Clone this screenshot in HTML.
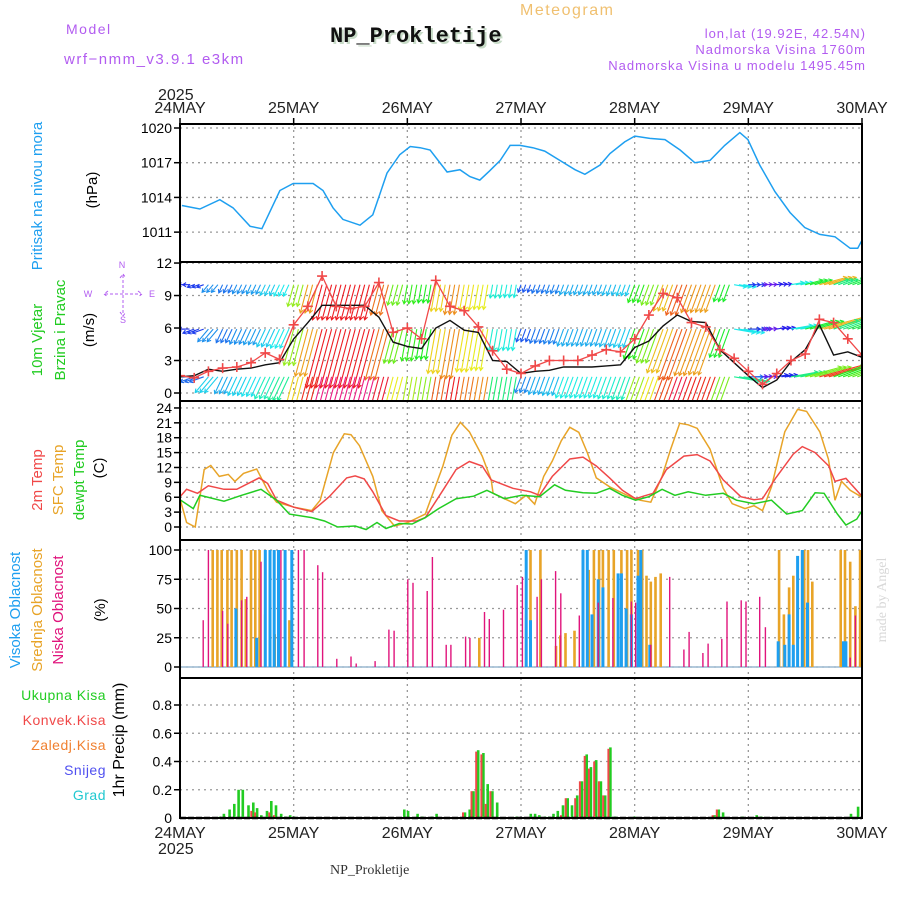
<!DOCTYPE html>
<html><head><meta charset="utf-8"><style>
html,body{margin:0;padding:0;background:#fff;}
svg{display:block;font-family:"Liberation Sans",sans-serif;}
</style></head><body>
<svg id="chart" width="900" height="900" viewBox="0 0 900 900" xmlns="http://www.w3.org/2000/svg">
<defs>
<clipPath id="cpP"><rect x="180" y="124" width="682" height="138"/></clipPath>
<clipPath id="cpW"><rect x="180" y="262" width="682" height="139"/></clipPath>
<clipPath id="cpT"><rect x="180" y="401" width="682" height="139"/></clipPath>
<clipPath id="cpC"><rect x="180" y="540" width="682" height="138"/></clipPath>
<clipPath id="cpR"><rect x="180" y="678" width="682" height="140"/></clipPath>
</defs>
<text x="66" y="34" font-size="14" fill="#b25cf0" letter-spacing="1.5">Model</text>
<text x="64" y="64" font-size="15" fill="#b25cf0" letter-spacing="1.5">wrf−nmm_v3.9.1 e3km</text>
<text x="332" y="44" font-size="22" font-weight="bold" font-family="Liberation Mono,monospace" fill="#c8dcc8">NP_Prokletije</text>
<text x="330" y="42" font-size="22" font-weight="bold" font-family="Liberation Mono,monospace" fill="#111">NP_Prokletije</text>
<text x="520" y="15" font-size="16" fill="#f0c070" letter-spacing="1.5">Meteogram</text>
<text x="866" y="38" font-size="13" fill="#b25cf0" text-anchor="end" letter-spacing="1">lon,lat (19.92E, 42.54N)</text>
<text x="866" y="54" font-size="13" fill="#b25cf0" text-anchor="end" letter-spacing="1">Nadmorska Visina 1760m</text>
<text x="866" y="70" font-size="13" fill="#b25cf0" text-anchor="end" letter-spacing="1">Nadmorska Visina u modelu 1495.45m</text>
<text x="158" y="100" font-size="16" fill="#222">2025</text>
<text x="330" y="874" font-size="14" font-family="Liberation Serif,serif" fill="#333">NP_Prokletije</text>
<text transform="translate(886,600) rotate(-90)" font-size="14" font-family="Liberation Serif,serif" fill="#d8d8d8" text-anchor="middle">made by Angel</text>
<g id="grids"></g><g id="data"></g><g id="frames"></g><g id="labels"></g>
</svg>
<script>
// ---------- data ----------
const dayLabels = ["24MAY","25MAY","26MAY","27MAY","28MAY","29MAY","30MAY"];
const pressTicks = [1020,1017,1014,1011];
const windTicks = [0,3,6,9,12];
const tempTicks = [0,3,6,9,12,15,18,21,24];
const cloudTicks = [0,25,50,75,100];
const precipTicks = [0.2,0.4,0.6,0.8];

const pressHours = [0.4,4.2,8.4,11.2,14.8,17.3,21.1,23.9,28.1,30.2,32.3,34.4,38,40.7,43.7,46.4,48.6,50.7,52.8,56.4,59.1,61.2,63.3,65.4,67.6,69.7,71.8,74.5,77,80.2,83.4,85.5,88.7,90.8,93.9,96,99.2,102.4,105.6,108.7,111.9,115,118.2,119.9,122.4,125.6,128.8,131.9,135.1,138.3,141.5,143.1,144];
const pressVals = [1013.3,1013.0,1013.8,1013.1,1011.5,1011.3,1014.6,1015.2,1015.2,1014.6,1013.1,1012.1,1011.6,1012.5,1016.1,1017.7,1018.4,1018.3,1018.1,1016.2,1016.4,1015.8,1015.5,1016.3,1017.2,1018.5,1018.5,1018.3,1018,1017.2,1016.4,1016,1016.8,1017.8,1018.8,1019.3,1019.1,1019,1018.1,1017,1017.2,1018.5,1019.6,1019,1016.8,1014.5,1012.7,1011.4,1010.8,1010.6,1009.6,1009.6,1010.3];

const windStepHours = 3;
const windSpeed = [1.5,1.6,2.2,2.0,2.2,2.3,2.6,2.8,5.0,6.5,8.1,8.1,8.1,8.1,7.0,4.7,4.3,4.1,6.0,6.7,5.8,5.6,3.0,2.9,1.8,2.0,2.1,2.4,2.4,2.4,2.5,2.6,4.2,4.8,6.2,7.2,6.6,6.5,4.0,2.8,1.6,0.5,1.2,2.9,4.0,6.3,3.5,3.8,3.3];
const windGust = [1.6,1.4,2.0,2.3,2.4,2.8,3.7,3.1,6.3,8.0,10.8,8.0,7.8,8.0,10.2,5.6,6.0,5.0,10.4,8.0,7.6,6.1,3.9,2.2,1.8,2.5,3.0,3.0,3.0,3.5,4.0,3.8,5.0,7.2,9.2,8.8,6.5,6.1,4.0,3.2,2.0,0.8,1.8,3.0,3.6,6.8,6.5,5.0,3.5];
const windFrom = [90,70,40,25,25,25,25,25,15,15,15,15,15,15,15,15,10,10,10,10,10,10,10,10,20,20,20,20,20,20,20,20,20,20,20,20,20,20,20,280,270,265,260,260,255,255,250,250,250];
const windRowLevels = [10.0,5.9,1.5];
const windRowFactor = [0.6,1.0,1.25];

const t2mHours = [0,1.4,3.7,6,9.3,12,16.7,18.5,20.4,24,27.8,31.5,35.2,37,38.9,40.7,43.5,46.3,50,51.8,55.5,58.3,61.1,63.8,65.7,70.3,74,75.9,78.6,82.3,85.1,87.9,90.7,93.4,96.2,98.1,99.9,102.7,106.4,109.2,111.9,114.7,118.4,121.2,123,125.8,129.5,131.4,134.1,137,138.3,140.6,143.8];
const t2mVals = [6.1,7.6,6.8,8.3,7.6,7.6,9.9,8.8,5.4,4,3.1,6.1,9.9,10.3,9.7,7.1,2.3,1.2,1.2,1.9,7.4,11.6,13.2,12.3,9.5,7.8,7.1,6.4,10.2,13.7,14.1,12.3,9.9,7.4,5.7,6.3,6.8,11.6,14.3,14.6,13.3,9.5,6.1,5.5,5.7,9.9,14.7,16.2,15,12.3,9.2,9.8,6.4];
const sfcHours = [0,1.4,3.2,5.1,6.5,8.3,10.2,11.6,13.4,16.2,18.5,20.4,24.1,27.8,29.6,32.4,34.7,36.1,37.9,40.7,42.6,45.3,48.1,51.8,55.5,57.4,59.2,61.1,63.8,65.7,66.1,68.5,70.8,73.1,74.9,76.8,78.6,80.5,82.3,84.2,86,87.9,90.7,94.4,97.1,99.4,101.8,103.6,105.5,107.3,109.2,111.9,114.7,116.6,119.3,121.2,123,124.9,127.7,130.4,132.3,135.1,136.9,138.3,139.7,141.5,143.8];
const sfcVals = [5.7,0.9,0,11.6,12.4,10.2,10.6,9.2,10.8,11.7,7.4,5,4,3.3,5.4,15,18.8,18.6,16.4,10.2,3.3,0.2,0.9,2.6,12.3,18.5,21.1,19.2,14.3,9.5,6.8,5.7,4.7,6.4,4.6,10.2,13.3,17.4,20.1,19.1,15,9.9,8.1,6.4,5.4,5,10.2,15.7,20.9,20.6,19.9,15.7,7.8,4.7,3.7,4.3,3.3,8.1,19.2,23.7,23.3,19.2,13.7,5.4,9.2,7.4,6.1];
const dewHours = [0,2.8,4.2,9.3,13,17.1,20.4,23.1,27.8,30.5,33.3,37,39.3,41.6,43.5,46.3,49,51.8,54.6,58.3,62,64.8,68.5,72.2,75.9,79.1,81.4,85.1,87.9,90.7,93.4,96.2,99,101.8,104.5,107.3,111,114.7,117.5,121.2,124.9,128.1,131.4,134.1,136,138.8,140.6,142.9,144];
const dewVals = [5.5,3.7,6.4,5.2,6.4,7.6,5.4,2.6,1.9,1.2,0,0.2,-0.5,0.9,-0.3,0.7,0.6,1.9,3.7,5.7,6.2,7.4,5.7,6.4,6.1,8.5,7.4,6.9,6.8,7.8,6.4,5.4,6.1,7.6,6.4,7.1,6.4,6.8,5.4,4.7,5.4,2.6,3.3,6.9,6.8,2.6,0.4,1.6,3.3];

const midHours = [6.9,7.9,8.8,10,10.9,12,13,13.9,15,15.9,16.8,18,19,20,23.1,63.2,73.1,74,76.1,79.4,80.3,81.4,83.3,85.1,86.3,87.4,88.5,89.3,90.5,91.6,93.2,94.4,95.3,96.7,97.6,98.5,99.4,100.4,101.5,126.5,127.5,128.6,129.5,131.4,131.8,132.6,133.5,139.5,140.4,141.5,142.6,143.6];
const midVals = [100,100,100,100,100,100,100,58,100,100,100,45,50,28,40,25,45,100,100,18,27,29,31,25,83,100,100,100,100,100,100,100,100,100,100,78,73,77,80,100,45,68,78,100,100,100,73,100,100,90,52,100];
const highHours = [11.8,16.2,18,19,19.9,20.8,22.2,23.6,73.1,74,85.1,86,87,88.3,89.3,92.5,93.2,94.2,95.3,96.7,97.3,99.2,126.3,127.7,128.6,129.5,130.4,131.4,132.5,140.1,140.6];
const highVals = [50,25,100,100,100,100,100,100,100,40,100,100,45,75,68,80,80,50,45,78,100,19,22,19,45,19,95,100,55,22,22];
const lowHours = [4.9,6,9,10.1,13,14.1,17.1,21.3,25,26.2,29.1,30.1,33.1,36.1,37.2,41.2,44.1,45.2,48.1,49.2,52.2,53.3,56.2,57.2,60.3,61.2,64.3,65.3,68.3,71.2,72.3,75.4,76.3,79.3,80.4,84.3,88.3,91.4,95.3,96.2,99.4,103.4,106.4,107.5,110.4,111.5,114.4,115.5,118.5,119.5,122.4,123.6,141.5,142.6];
const lowVals = [40,100,48,37,57,60,90,100,100,100,87,81,7,9,3,5,32,31,75,72,65,94,19,19,26,25,47,41,49,70,77,60,75,82,63,44,55,59,56,55,19,77,15,30,12,20,24,56,57,56,60,34,8,44];

const precipHours = [8.3,9.1,10.3,11.3,12.2,13.1,14.3,15.3,16.1,17,18.2,19.1,20.1,21.2,22.1,23.1,23.9,47.2,48,50,51,53,54,60,61,61.8,62.8,63.9,64.8,65.8,66.8,70.9,73.9,74.8,75.7,76.9,77.8,78.7,79.6,80.7,81.7,82.6,83.7,84.7,85.7,86.6,87.7,88.7,89.6,90.7,91.7,95.8,112.7,113.6,114.5,118.6,121.6,122.6,141.5,143];
const precipTotal = [0.01,0.03,0.06,0.1,0.2,0.2,0.09,0.11,0.07,0.02,0.05,0.12,0.09,0.03,0.01,0.02,0.01,0.06,0.05,0.03,0.01,0.01,0.03,0.04,0.06,0.19,0.48,0.46,0.24,0.19,0.11,0.01,0.03,0.03,0.02,0.01,0.01,0.03,0.05,0.09,0.14,0.09,0.16,0.26,0.45,0.36,0.41,0.26,0.16,0.5,0.01,0.01,0.02,0.06,0.04,0.01,0.02,0.01,0.03,0.08];
const precipConv = [0,0,0,0,0,0,0,0.05,0.04,0,0,0.04,0.02,0,0,0,0,0,0,0,0,0,0,0.04,0,0.19,0.47,0.45,0.1,0.19,0,0,0,0,0,0,0,0,0,0.02,0.14,0,0.14,0.26,0.44,0.35,0.4,0.26,0.16,0.49,0,0,0.02,0.06,0,0,0,0,0,0];

// ---------- scales ----------
const X0=180, X1=862, HOURS=144;
const xs = h => X0 + h*(X1-X0)/HOURS;
const yP = v => 128 + (1020-v)*11.57;
const yW = v => 393 - v*10.83;
const yT = v => 527 - v*4.96;
const yC = v => 667 - v*1.17;
const yR = v => 818 - v*141.25;
const NS="http://www.w3.org/2000/svg";
const svg=document.getElementById('chart');
const G={grids:document.getElementById('grids'),data:document.getElementById('data'),frames:document.getElementById('frames'),labels:document.getElementById('labels')};
function mk(tag,attrs,parent){const e=document.createElementNS(NS,tag);for(const k in attrs)e.setAttribute(k,attrs[k]);parent.appendChild(e);return e;}
const panels=[{y0:124,y1:262,cp:'cpP'},{y0:262,y1:401,cp:'cpW'},{y0:401,y1:540,cp:'cpT'},{y0:540,y1:678,cp:'cpC'},{y0:678,y1:818,cp:'cpR'}];

panels.forEach(p=>{
  for(let d=1;d<6;d++){
    const l=mk('line',{x1:xs(d*24),x2:xs(d*24),y1:p.y0,y2:p.y1,stroke:'#999','stroke-dasharray':'2,4','stroke-width':1.3},G.grids);
    
    
  }
});
function hgrid(vals,fy,name,fmt){
  vals.forEach(v=>{
    const y=fy(v);
    const l=mk('line',{x1:X0,x2:X1,y1:y,y2:y,stroke:'#999','stroke-dasharray':'2,4','stroke-width':1.3},G.grids);
    
    
    const tk=mk('line',{x1:X0-6,x2:X0,y1:y,y2:y,stroke:'#000','stroke-width':1.5},G.frames);
    
    
    const t=mk('text',{x:X0-8,y:y+5,'font-size':14,'text-anchor':'end',fill:'#000'},G.labels);
    t.textContent=fmt?fmt(v):v;
    
    
  });
}
hgrid(pressTicks,yP,'pressure');
hgrid(windTicks,yW,'wind');
hgrid(tempTicks,yT,'temperature');
hgrid(cloudTicks,yC,'cloud');
hgrid(precipTicks,yR,'precip',v=>v.toFixed(1));
{const t=mk('text',{x:X0-8,y:yR(0)+5,'font-size':14,'text-anchor':'end',fill:'#000'},G.labels);t.textContent='0';

}

panels.forEach(p=>{
  const r=mk('rect',{x:X0,y:p.y0,width:X1-X0,height:p.y1-p.y0,fill:'none',stroke:'#000','stroke-width':2},G.frames);
  
  
});
dayLabels.forEach((d,i)=>{
  [[113,'top'],[838,'bottom']].forEach(([y,pos])=>{
    const t=mk('text',{x:xs(i*24),y:y,'font-size':16,'text-anchor':'middle',fill:'#222'},G.labels);
    t.textContent=d;
    
    
  });
  const tk=mk('line',{x1:xs(i*24),x2:xs(i*24),y1:118,y2:124,stroke:'#000','stroke-width':1.5},G.frames);
  
  
});
{const t=mk('text',{x:158,y:854,'font-size':16,fill:'#222'},G.labels);t.textContent='2025';

}

function line(hours,vals,fy,color,cp,name,w){
  const d=hours.map((h,i)=>(i?'L':'M')+xs(h).toFixed(1)+','+fy(vals[i]).toFixed(1)).join('');
  const p=mk('path',{d:d,fill:'none',stroke:color,'stroke-width':w||1.5,'clip-path':'url(#'+cp+')'},G.data);
  
  
}
line(pressHours,pressVals,yP,'#1e9ff0','cpP','pressure-line');

// wind arrows (one arrow per hour, each hour uses the 3-hourly sample it belongs to)
const hueStops=[[0,275],[1.5,235],[2.5,195],[4,125],[5.5,65],[6.5,38],[8,0],[10,-35]];
function hue(s){for(let i=1;i<hueStops.length;i++){if(s<=hueStops[i][0]){const a=hueStops[i-1],b=hueStops[i];return a[1]+(b[1]-a[1])*(s-a[0])/(b[0]-a[0]);}}return -35;}
const wg=mk('g',{'clip-path':'url(#cpW)'},G.data);


windRowLevels.forEach((lev,r)=>{
  for(let h=0;h<=HOURS;h++){
    const i=Math.min(windSpeed.length-1,Math.floor(h/windStepHours));
    const sp=windSpeed[i]*windRowFactor[r];
    const x=xs(h), y=yW(lev);
    const to=(windFrom[i]+180)*Math.PI/180;
    const L=Math.max(5,sp*7.5);
    const ex=x+Math.sin(to)*L, ey=y-Math.cos(to)*L;
    let hh=hue(windSpeed[i]*(r==2?1.2:1)); if(hh<0)hh+=360;
    const c='hsl('+hh.toFixed(0)+',85%,52%)';
    const ang=Math.atan2(ey-y,ex-x);
    const a1=ang+2.6,a2=ang-2.6;
    const d='M'+x.toFixed(1)+','+y.toFixed(1)+'L'+ex.toFixed(1)+','+ey.toFixed(1)+
      'M'+(ex+4*Math.cos(a1)).toFixed(1)+','+(ey+4*Math.sin(a1)).toFixed(1)+'L'+ex.toFixed(1)+','+ey.toFixed(1)+'L'+(ex+4*Math.cos(a2)).toFixed(1)+','+(ey+4*Math.sin(a2)).toFixed(1);
    const p=mk('path',{d:d,fill:'none',stroke:c,'stroke-width':1.1},wg);
    
    
  }
});
const windHours=windSpeed.map((_,i)=>i*windStepHours);
line(windHours,windSpeed,yW,'#111','cpW','wind-speed-line',1.4);
line(windHours,windGust,yW,'#f04848','cpW','wind-gust-line',1.3);
windGust.forEach((g,i)=>{
  const x=xs(i*windStepHours),y=yW(g);
  const p=mk('path',{d:'M'+(x-5)+','+y+'H'+(x+5)+'M'+x+','+(y-5)+'V'+(y+5),stroke:'#f04848','stroke-width':1.6,'clip-path':'url(#cpW)'},G.data);
  
  
});

line(sfcHours,sfcVals,yT,'#e8a428','cpT','sfc-temp-line');
line(t2mHours,t2mVals,yT,'#f04848','cpT','2m-temp-line');
line(dewHours,dewVals,yT,'#22cc22','cpT','dewpoint-line');

{const b=mk('line',{x1:X0,x2:X1,y1:yC(0),y2:yC(0),stroke:'#9ab8d0','stroke-width':1.5},G.data);

}
function bars(hours,vals,fy,color,w,off,cp,name){
  hours.forEach((h,i)=>{
    if(!vals[i])return;
    const y=fy(vals[i]), y0=fy(0);
    const r=mk('rect',{x:(xs(h)-w/2+off).toFixed(1),y:y.toFixed(1),width:w,height:(y0-y).toFixed(1),fill:color,'clip-path':'url(#'+cp+')'},G.data);
    
    
  });
}
bars(midHours,midVals,yC,'#e8a428',2.6,0,'cpC','mid-cloud-bar');
bars(highHours,highVals,yC,'#1e9ff0',3,0,'cpC','high-cloud-bar');
bars(lowHours,lowVals,yC,'#e0147c',1.4,0,'cpC','low-cloud-bar');

bars(precipHours,precipTotal,yR,'#22cc22',2.6,0.8,'cpR','total-precip-bar');
bars(precipHours,precipConv,yR,'#f04848',2,-1.2,'cpR','convective-precip-bar');
{const b=mk('line',{x1:X0,x2:X1,y1:yR(0),y2:yR(0),stroke:'#000','stroke-width':2.5,'stroke-dasharray':'6,2'},G.data);

}

function rlab(txt,x,y,color,name,size){
  const t=mk('text',{transform:'translate('+x+','+y+') rotate(-90)','font-size':size||15,'text-anchor':'middle',fill:color},G.labels);
  t.textContent=txt;
  
  
}
rlab('Pritisak na nivou mora',42,196,'#1e9ff0','pressure-axis-title');
rlab('(hPa)',97,190,'#000','pressure-unit');
rlab('10m Vjetar',42,340,'#22cc22','wind-axis-title');
rlab('Brzina i Pravac',65,330,'#22cc22','wind-axis-subtitle');
rlab('(m/s)',94,330,'#000','wind-unit');
rlab('2m Temp',42,480,'#f04848','t2m-axis-title');
rlab('SFC Temp',63,480,'#e8a428','sfc-axis-title');
rlab('dewpt Temp',84,480,'#22cc22','dewpoint-axis-title');
rlab('(C)',104,468,'#000','temperature-unit');
rlab('Visoka Oblacnost',20,610,'#1e9ff0','high-cloud-axis-title');
rlab('Srednja Oblacnost',42,610,'#e8a428','mid-cloud-axis-title');
rlab('Niska Oblacnost',63,610,'#e0147c','low-cloud-axis-title');
rlab('(%)',105,610,'#000','cloud-unit');
rlab('1hr Precip (mm)',124,740,'#000','precip-axis-title',16);
[['Ukupna Kisa',700,'#22cc22','total-precip-legend'],['Konvek.Kisa',725,'#f04848','convective-legend'],['Zaledj.Kisa',750,'#f08030','freezing-legend'],['Snijeg',775,'#5050f0','snow-legend'],['Grad',800,'#20c8d0','hail-legend']].forEach(a=>{
  const t=mk('text',{x:106,y:a[1],'font-size':14,'text-anchor':'end',fill:a[2],'letter-spacing':0.5},G.labels);
  t.textContent=a[0];
  
  
});
{const cg=mk('g',{fill:'#b25cf0','font-size':9},G.labels);


[['N',122,268],['W',88,297],['E',152,297],['S',123,323]].forEach(a=>{const t=mk('text',{x:a[1],y:a[2],'text-anchor':'middle'},cg);t.textContent=a[0];});
mk('path',{d:'M105,294H141M123,275V316M108,291L104,294L108,297M138,291L142,294L138,297M120,278L123,274L126,278M120,312L123,316L126,312',stroke:'#b25cf0','stroke-width':1,fill:'none','stroke-dasharray':'3,2'},cg);}
</script>
</body></html>
